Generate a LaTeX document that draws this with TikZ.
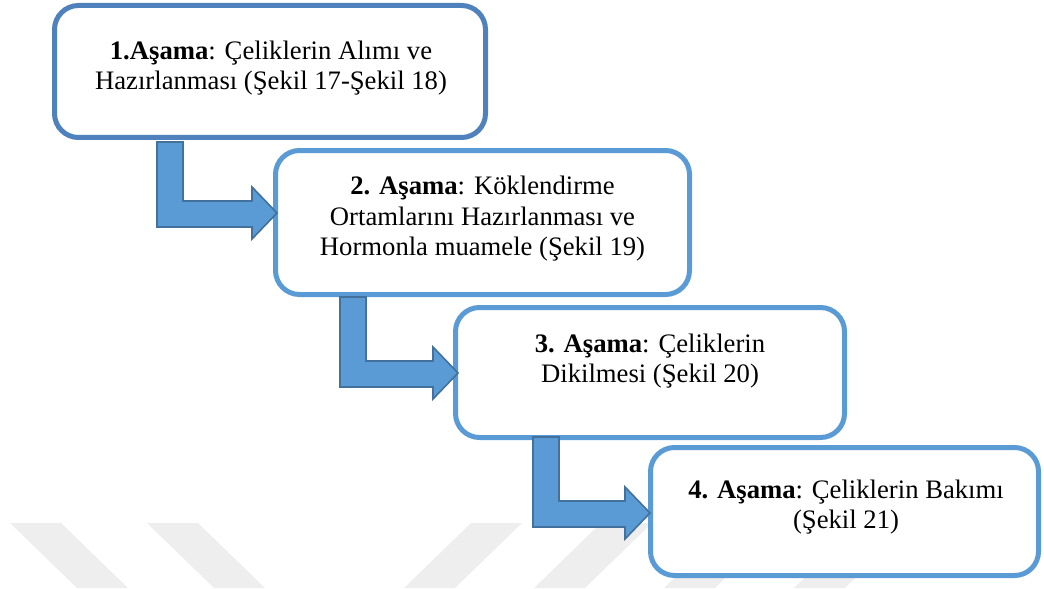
\documentclass[tikz,border=0pt]{standalone}
\usepackage{fontspec}
\setmainfont{Liberation Serif}
\definecolor{boxA}{RGB}{79,129,189}
\definecolor{boxB}{RGB}{91,155,213}
\definecolor{arrowfill}{RGB}{91,155,213}
\definecolor{arrowline}{RGB}{65,113,156}
\definecolor{wm}{RGB}{238,238,238}
\newcommand{\stagearrow}[4]{%
  \draw[blockarrow] (#1,#2) -- (#1+26,#2) -- (#1+26,#4-12) -- (#3-25,#4-12)
    -- (#3-25,#4-26) -- (#3,#4) -- (#3-25,#4+26) -- (#3-25,#4+14)
    -- (#1,#4+14) -- cycle;}
\begin{document}
\begin{tikzpicture}[x=0.75pt,y=-0.75pt,
  stagebox/.style={draw=boxB, line width=3.75pt, rounded corners=18pt, fill=white, inner sep=0pt},
  stagetext/.style={align=center, inner sep=0pt, font=\fontsize{20}{23}\selectfont},
  blockarrow/.style={fill=arrowfill, draw=arrowline, line width=1.2pt, line join=miter},
  watermark/.style={fill=wm, draw=none}]
\useasboundingbox (0,0) rectangle (1044,588);
% watermark stripes
\fill[watermark] (10,523) -- (61,523) -- (128,588) -- (77,588) -- cycle;
\fill[watermark] (147,523) -- (198,523) -- (265,588) -- (214,588) -- cycle;
\fill[watermark] (471,523) -- (522,523) -- (455,588) -- (404,588) -- cycle;
\fill[watermark] (601,523) -- (652,523) -- (585,588) -- (534,588) -- cycle;
\fill[watermark] (731,523) -- (782,523) -- (715,588) -- (664,588) -- cycle;
\fill[watermark] (861,523) -- (912,523) -- (845,588) -- (794,588) -- cycle;
% boxes
\node[stagebox, draw=boxA, minimum width=323.25pt, minimum height=99pt] (b1) at (270,71.5) {};
\node[stagebox, minimum width=310.5pt, minimum height=108pt] (b2) at (482.5,222.5) {};
\node[stagebox, minimum width=291.75pt, minimum height=97.5pt] (b3) at (650,372.5) {};
\node[stagebox, minimum width=291pt, minimum height=96pt] (b4) at (844.5,511.5) {};
% texts
\node[stagetext] (t1) at (271,68) {\textbf{1.Aşama}: Çeliklerin Alımı ve\\Hazırlanması (Şekil 17-Şekil 18)};
\node[stagetext] (t2) at (482.5,218.6) {\textbf{2. Aşama}: Köklendirme\\Ortamlarını Hazırlanması ve\\Hormonla muamele (Şekil 19)};
\node[stagetext] (t3) at (650,361) {\textbf{3. Aşama}: Çeliklerin\\Dikilmesi (Şekil 20)};
\node[stagetext] (t4) at (846,507) {\textbf{4. Aşama}: Çeliklerin Bakımı\\(Şekil 21)};
% arrows
\stagearrow{157}{142}{277}{213}
\stagearrow{340}{297}{458}{373}
\stagearrow{533}{437}{650}{513}
\end{tikzpicture}
\end{document}
